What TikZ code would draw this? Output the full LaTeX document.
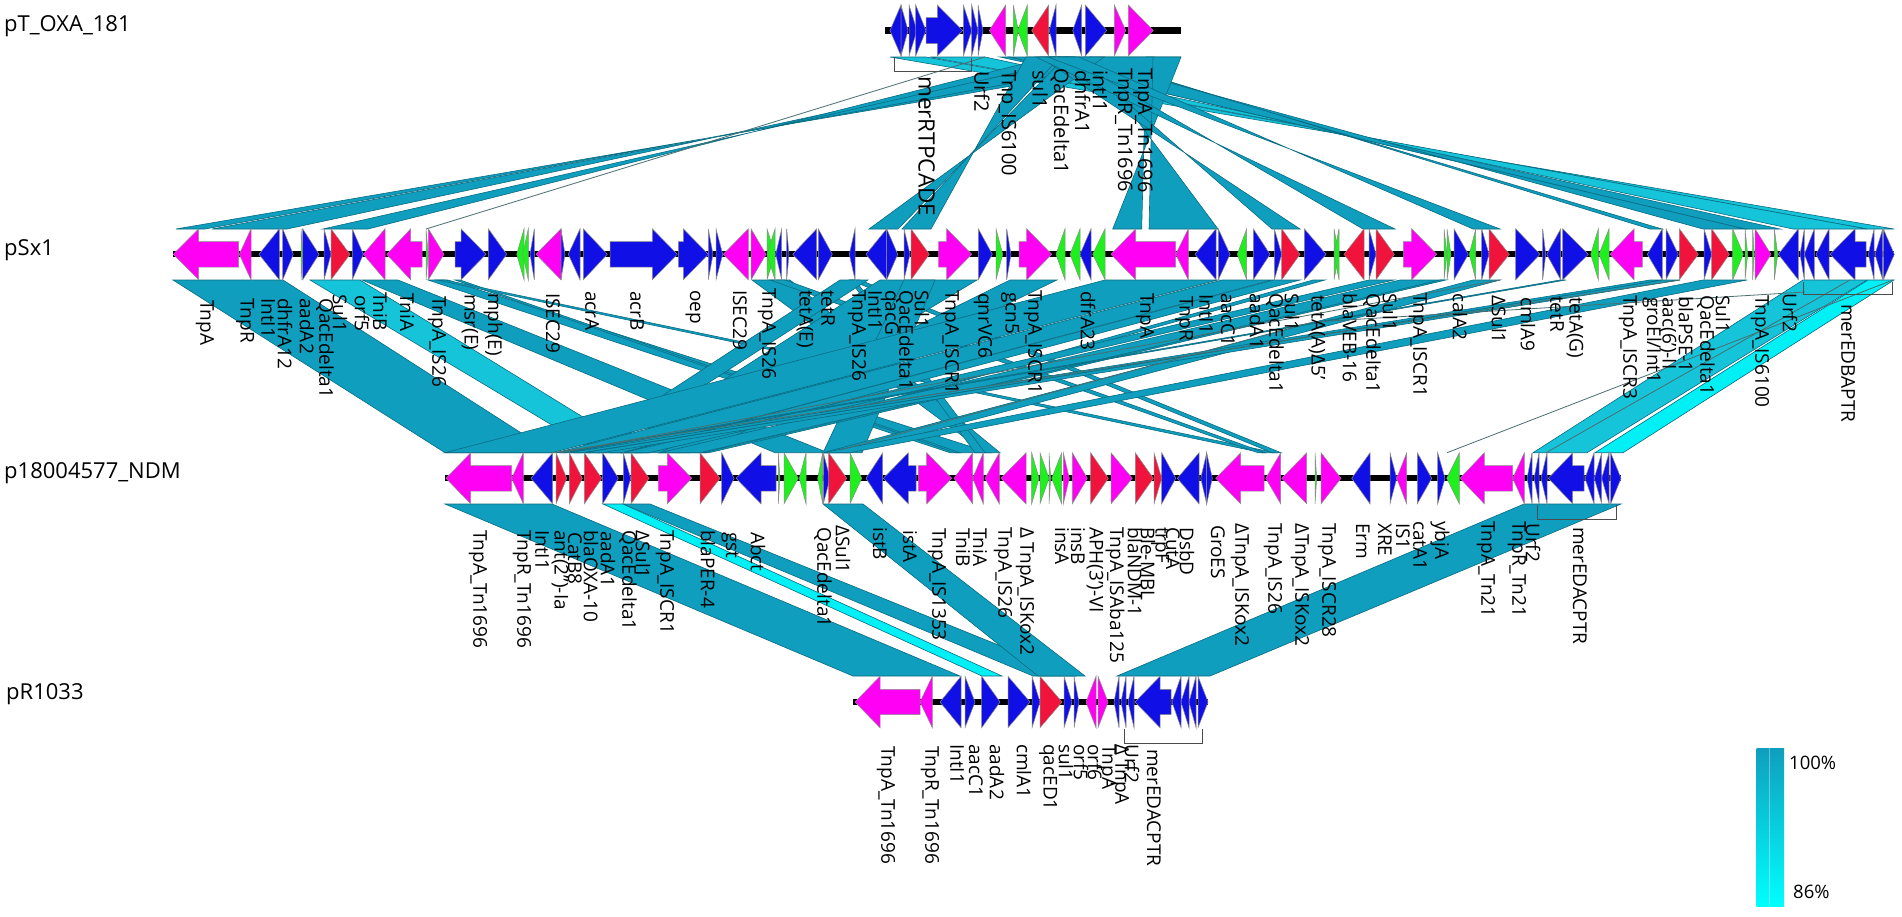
\documentclass[tikz,border=0pt]{standalone}
\usepackage{fontspec}
\setmainfont{Open Sans}
\definecolor{gb}{HTML}{1010E6}
\definecolor{gm}{HTML}{FF00F5}
\definecolor{gg}{HTML}{1EF01E}
\definecolor{gr}{HTML}{F0143C}
\definecolor{teal1}{HTML}{0F9EBE}
\definecolor{mid1}{HTML}{16C4DA}
\definecolor{cy1}{HTML}{00F0F5}
\definecolor{edge1}{HTML}{0A6C82}
\definecolor{gline}{HTML}{4A6E70}
\tikzset{
  gene/.style={line width=0.5pt,draw=black!45},
  rib/.style={line width=0.6pt,draw=edge1},
  thinrib/.style={line width=0.8pt,draw=gline},
  brk/.style={line width=0.8pt,draw=black!70},
  backbone/.style={line width=#1,draw=black},
  lab/.style={rotate=-90,anchor=west,inner sep=0pt,font=\fontsize{19}{19}\selectfont},
  labt/.style={rotate=-90,anchor=west,inner sep=0pt,font=\fontsize{20}{20}\selectfont},
  labb/.style={rotate=-90,anchor=west,inner sep=0pt,font=\fontsize{22.5}{22.5}\selectfont},
  nm/.style={anchor=west,inner sep=0pt,font=\fontsize{22}{22}\selectfont},
}
% gene macros: triangle (base,tip,colour) and block arrow (tail,neck,tip,colour)
\newcommand{\gT}[3]{\draw[gene,fill=#3] (#1,\cy-\hh)--(#2,\cy)--(#1,\cy+\hh)--cycle;}
\newcommand{\gA}[4]{\draw[gene,fill=#4] (#1,\cy-\sh)--(#2,\cy-\sh)--(#2,\cy-\hh)--(#3,\cy)--(#2,\cy+\hh)--(#2,\cy+\sh)--(#1,\cy+\sh)--cycle;}
\newcommand{\rb}[5]{\draw[rib,fill=#1] (#2,\ya)--(#3,\ya)--(#5,\yb)--(#4,\yb)--cycle;}
\newcommand{\gln}[2]{\draw[thinrib] (#1,\ya)--(#2,\yb);}
\begin{document}
\begin{tikzpicture}[x=1pt,y=-1pt]
\useasboundingbox (0,0) rectangle (1902,916);
\fill[white] (0,0) rectangle (1902,916);

% ---------- ribbons T2-T3
\def\ya{504}\def\yb{676}
\rb{teal1}{445}{552}{853}{960}
\rb{cy1}{603}{623}{982}{1002}
\rb{teal1}{623}{650}{1033}{1075}
\rb{teal1}{823}{863}{1038}{1085}
\rb{teal1}{1524}{1621}{1117}{1210}

% ---------- ribbons T1-T2
\def\ya{280}\def\yb{452.7}
\rb{teal1}{173}{283}{445}{552}
\rb{mid1}{310}{360}{598}{641}
\rb{teal1}{362}{398}{775}{828}
\rb{teal1}{428}{448}{950}{990}
\rb{teal1}{455}{460}{955}{960}
\rb{teal1}{437}{445}{1262}{1275}
\rb{teal1}{752}{790}{985}{1000}
\rb{teal1}{850}{855}{975}{985}
\rb{teal1}{770}{785}{1258}{1265}
\rb{teal1}{850}{860}{1272}{1281}
\rb{teal1}{840}{868}{575}{600}
\rb{teal1}{880}{977}{610}{690}
\rb{teal1}{904}{935}{823}{862}
\rb{teal1}{1010}{1057}{660}{700}
\rb{teal1}{1105}{1218}{445}{552}
\rb{teal1}{1222}{1272}{556}{622}
\rb{teal1}{1274}{1300}{623}{649}
\rb{teal1}{1313}{1325}{700}{706}
\rb{teal1}{1369}{1394}{623}{649}
\rb{teal1}{1400}{1443}{660}{700}
\rb{teal1}{1440}{1446}{703}{709}
\rb{teal1}{1473}{1500}{823}{850}
\rb{teal1}{1703}{1747}{823}{850}
\rb{teal1}{1662}{1680}{584}{602}
\rb{teal1}{1650}{1662}{569}{582}
\rb{teal1}{1560}{1566}{560}{566}
\rb{mid1}{1803}{1867}{1533}{1587}
\rb{cy1}{1868}{1894}{1595}{1623}
\gln{1893}{1447}
\gln{1850}{1546}
\gln{1500}{560}
\gln{1680}{553}
\coordinate (ga) at (1805,292); \coordinate (gb) at (1313,322); \coordinate (gc) at (840,450);
\draw[thinrib] (ga)--(gb)--(gc);

% ---------- ribbons T0-T1
\def\ya{57}\def\yb{229}
\rb{mid1}{890}{926}{1894}{1867}
\rb{mid1}{930}{985}{1867}{1793}
\rb{teal1}{1010}{1000}{1745}{1780}
\rb{teal1}{1075}{1010}{1703}{1745}
\rb{teal1}{1090}{1085}{1650}{1662}
\rb{teal1}{1181}{1155}{176}{205}
\rb{teal1}{1155}{1090}{212}{287}
\rb{teal1}{1085}{1050}{323}{368}
\gln{985}{426}
\rb{teal1}{1181}{1146}{1112.7}{1141.7}
\rb{teal1}{1153}{1090}{1149}{1218}
\rb{teal1}{1104}{1065}{869}{898}
\rb{teal1}{1060}{1026}{902}{931}
\rb{teal1}{1075}{1040}{1272}{1300}
\rb{teal1}{1068}{1036}{1363}{1395}
\rb{teal1}{1079}{1048}{1473}{1500}

% ---------- brackets
\draw[brk] (894,58)--(894,71.7)--(971.7,71.7)--(971.7,58);
\draw[brk] (1803,282)--(1803,294)--(1892,294)--(1892,282);
\draw[brk] (1537.7,505)--(1537.7,519)--(1616,519)--(1616,505);
\draw[brk] (1124,729)--(1124,743)--(1202,743)--(1202,729);

% ---------- labels
\node[labb] (la0) at (926.7,76) {merRTPCADE};
\foreach \x/\y/\t [count=\i] in {982/71/Urf2,1006.7/70/Tnp\_IS6100,1040/70/sul1,1060/68/QacEdelta1,1082.7/70/dhfrA1,1100/70/intI1,1123/68/TnpR\_Tn1696,1143/68/TnpA\_Tn1696}
  \node[labt] (la\i) at (\x,\y) {\t};
\foreach \x/\y/\t [count=\i] in {205/300/TnpA,245/298/TnpR,268/298/IntI1,285/298/dhfrA12,307/298/aadA2,325/298/QacEdelta1,340/294/Sul1,362/295/orf5,380/292/TniB,407/293/TniA,437/296/TnpA\_IS26,470/294/msr(E),493/293/mph(E),553/293/ISEC29,592/291/acrA,637/291/acrB,693/290/oep,740/290/ISEC29,767/288/TnpA\_IS26,805/290/tetA(E),828/290/tetR,857/290/TnpA\_IS26,875/290/IntI1,890/290/qacG,905/290/QacEdelta1,922/290/Sul1,950/290/TnpA\_ISCR1,983/293/qnrVC6,1010/292/gcn5,1033/290/TnpA\_ISCR1,1088/291/dfrA23,1145/293/TnpA,1184/296/TnpR,1206/294/IntI1,1228/293/aacC1,1257/293/aadA1,1275/293/QacEdelta1,1292/293/Sul1,1317/295/tetA(A)Δ5',1350/293/blaVEB-16,1372/293/QacEdelta1,1390/293/Sul1,1418/293/TnpA\_ISCR1,1460/293/calA2,1499/295/ΔSul1,1528/297/cmlA9,1557/296/tetR,1575/297/tetA(G),1628/295/TnpA\_ISCR3,1652/297/{groEl/Int1},1668/297/aac(6')-II,1686/296/blaPSE-1,1706/295/QacEdelta1,1723/295/Sul1,1760/295/TnpA\_IS6100,1790/293/Urf2,1848/304/merEDBAPTR}
  \node[lab] (lb\i) at (\x,\y) {\t};
\foreach \x/\y/\t [count=\i] in {478/530/TnpA\_Tn1696,522/530/TnpR\_Tn1696,542/530/IntI1,560/530/ant(2'')-Ia,575/532/CatB8,591/530/blaOXA-10,608/531/aadA1,628/530/QacEdelta1,643/530/ΔSul1,665/530/TnpA\_ISCR1,708/530/blaPER-4,730/532/gst,758/532/Abct,823/527/QacEdelta1,843/525/ΔSul1,880/527/istB,910/530/istA,937/528/TnpA\_IS1353,963/528/TniB,980/528/TniA,1003/527/TnpA\_IS26,1025/527/Δ TnpA\_ISKox2,1062/527/insA,1078/527/insB,1095/527/APH(3')-VI,1115/527/TnpA\_ISAba125,1135/527/blaNDM-1,1148/527/Ble-MBL,1160/527/trpF,1173/527/CutA,1187/527/DsbD,1218/525/GroES,1240/523/ΔTnpA\_ISKox2,1273/523/TnpA\_IS26,1300/523/ΔTnpA\_ISKox2,1327/523/TnpA\_ISCR28,1363/523/Erm,1385/523/XRE,1403/523/IS1,1420/521/catA1,1440/521/ybjA,1486/521/TnpA\_Tn21,1517/521/TnpR\_Tn21,1533/523/Urf2,1580/527/merEDACPTR}
  \node[lab] (lc\i) at (\x,\y) {\t};
\foreach \x/\y/\t [count=\i] in {886/746/TnpA\_Tn1696,930/746/TnpR\_Tn1696,957/744/IntI1,976/744/aacC1,997/744/aadA2,1024/744/cmlA1,1048/744/qacED1,1066/744/sul1,1081/744/orf5,1095/744/orf6,1107/744/TnpA,1120/744/Δ TnpA,1132/744/Urf2,1154/749/merEDACPTR}
  \node[lab] (ld\i) at (\x,\y) {\t};

% ---------- names
\node[nm] (n0) at (4,26) {pT\_OXA\_181};
\node[nm] (n1) at (4,250) {pSx1};
\node[nm] (n2) at (4,473) {p18004577\_NDM};
\node[nm] (n3) at (6,694) {pR1033};

% ---------- track pT_OXA_181
\def\cy{30.5}\def\hh{25.5}\def\sh{13}
\draw[backbone=7pt] (885,\cy)--(1181,\cy);
\gT{901}{890}{gb}\gT{901}{908}{gb}\gT{909}{917}{gb}\gT{915.7}{926}{gb}
\gA{926}{937.3}{962.7}{gb}
\gT{963.3}{971.7}{gb}\gT{971.7}{978}{gb}\gT{978}{983}{gb}
\gT{1005.7}{989.3}{gm}
\gT{1013.3}{1018.3}{gg}\gT{1027.3}{1017.7}{gg}
\gT{1048.7}{1031.7}{gr}\gT{1056}{1049.3}{gb}
\gT{1081.7}{1072.7}{gb}\gT{1085.3}{1106.7}{gb}
\gT{1114.3}{1125.7}{gm}\gT{1128.3}{1153.3}{gm}

% ---------- track pSx1
\def\cy{254.3}\def\hh{25.5}\def\sh{12.7}
\draw[backbone=6pt] (172.7,\cy)--(1894,\cy);
\gA{238.7}{198.7}{173.3}{gm}\gT{251}{239.3}{gm}
\gT{279.3}{259}{gb}\gT{282.7}{293.3}{gb}\gT{301}{303}{gg}\gT{302.7}{319}{gb}
\gT{324}{331}{gb}\gT{331}{350}{gr}\gT{352.3}{363.3}{gb}\gT{385}{363.3}{gm}
\gA{422}{410.7}{386.7}{gm}\gT{426}{428.3}{gg}\gT{428.3}{444}{gm}
\gA{455}{461}{486}{gb}\gT{488.3}{506.7}{gb}
\gT{524}{516.7}{gg}\gT{528.3}{522.7}{gg}\gT{534.3}{530}{gb}
\gT{561}{536}{gm}\gT{561}{565}{gb}\gT{580}{568.3}{gb}\gT{583.3}{607.3}{gb}
\gA{610}{652.3}{677.3}{gb}\gA{678.3}{683.3}{708.3}{gb}
\gT{708.3}{713}{gb}\gT{716}{722.7}{gb}
\gT{748.3}{723.3}{gm}\gT{751}{766}{gm}
\gT{767}{775}{gg}\gT{775}{767}{gg}
\gT{781.7}{775.7}{gb}\gT{786.7}{789}{gb}
\gT{816.7}{792.7}{gb}\gT{818.3}{832.3}{gb}
\gT{855}{849.3}{gb}\gT{886.7}{866}{gb}\gT{886.7}{897.7}{gb}
\gT{904}{910}{gb}\gT{911}{929.3}{gr}
\gA{938.7}{946.7}{971.7}{gm}\gT{978.3}{992.3}{gb}
\gT{996}{1002.7}{gg}\gT{1006.7}{1011}{gb}
\gA{1019}{1026.7}{1051.7}{gm}
\gT{1065}{1056}{gg}\gT{1080}{1070}{gg}\gT{1091}{1080}{gb}\gT{1105}{1092.7}{gg}
\gA{1175.7}{1135.7}{1111}{gm}\gT{1188.3}{1175.7}{gm}
\gT{1216}{1195}{gb}\gT{1218.3}{1230}{gb}\gT{1246.7}{1237.3}{gg}
\gT{1253.3}{1270}{gb}\gT{1274.3}{1281.7}{gb}\gT{1281.7}{1300}{gr}
\gT{1304.3}{1326}{gb}\gT{1334}{1339}{gg}\gT{1339}{1334}{gg}
\gT{1364}{1344}{gr}\gT{1369}{1376}{gb}\gT{1376}{1394.3}{gr}
\gA{1403.3}{1411.7}{1436.7}{gm}
\gT{1444}{1447}{gg}\gT{1447}{1451}{gg}\gT{1454}{1468.3}{gb}\gT{1475.7}{1469.3}{gg}
\gT{1481.7}{1489}{gb}\gT{1489}{1509.3}{gr}\gT{1515.7}{1540}{gb}
\gT{1542.7}{1545.7}{gb}\gT{1560.7}{1546.7}{gb}\gT{1562.7}{1588.3}{gb}
\gT{1598.3}{1590.7}{gg}\gT{1609}{1599}{gg}
\gA{1642.3}{1634}{1610}{gm}\gT{1662.3}{1647.3}{gb}\gT{1666}{1678.3}{gb}
\gT{1679.3}{1698.3}{gr}\gT{1704}{1711.7}{gb}\gT{1711.7}{1729.3}{gr}
\gT{1732.7}{1743.3}{gg}\gT{1745}{1747.7}{gg}\gT{1752.7}{1754.3}{gg}
\gT{1755}{1771}{gm}\gT{1774.3}{1777.7}{gg}
\gT{1798.3}{1778.3}{gb}\gT{1804.3}{1800}{gb}\gT{1814.3}{1804.3}{gb}\gT{1829}{1816}{gb}
\gA{1866}{1855}{1830}{gb}\gT{1874}{1868.3}{gb}\gT{1882.7}{1875}{gb}\gT{1883.3}{1894.3}{gb}

% ---------- track p18004577_NDM
\def\cy{478.3}\def\hh{25.5}\def\sh{12.7}
\draw[backbone=6pt] (445,\cy)--(1621,\cy);
\gA{511.7}{470.7}{446}{gm}\gT{523.3}{511.7}{gm}
\gT{552.7}{531}{gb}\gT{556}{566.7}{gr}\gT{569.3}{582.3}{gr}\gT{584.3}{601.7}{gr}
\gT{602.7}{618.3}{gb}\gT{623.3}{630.7}{gb}\gT{631}{649}{gr}
\gA{658.3}{667.3}{691.7}{gm}\gT{700}{720}{gr}\gT{721.7}{734}{gb}
\gA{776}{761}{736}{gb}\gT{778.3}{780}{gg}\gT{784}{798.3}{gg}\gT{806}{799.3}{gg}
\gT{822.7}{817.7}{gg}\gT{823.3}{830}{gb}\gT{828.7}{846.7}{gr}
\gT{850}{861.7}{gg}\gT{882.7}{866}{gb}\gA{916}{908.3}{883.3}{gb}
\gA{918.3}{926.7}{951.7}{gm}\gT{972.7}{954}{gm}\gT{983.3}{972.7}{gm}\gT{999.3}{985}{gm}\gT{1026}{1001}{gm}
\gT{1031.7}{1039}{gg}\gT{1040}{1049}{gg}\gT{1049}{1050.7}{gg}\gT{1061.7}{1051.7}{gg}
\gT{1063.3}{1069.3}{gm}\gT{1072.3}{1087.3}{gm}\gT{1090.7}{1108.3}{gr}\gT{1111}{1132.3}{gm}
\gT{1135.3}{1153.3}{gr}\gT{1154}{1161.7}{gr}\gT{1161.7}{1175.7}{gb}\gT{1199}{1177.3}{gb}
\gT{1206.7}{1200.7}{gb}\gT{1206.7}{1212.3}{gb}
\gA{1264}{1240.7}{1215.7}{gm}\gT{1280.7}{1265.7}{gm}\gT{1306.7}{1281.7}{gm}
\gT{1315}{1316.7}{gg}\gT{1321}{1341}{gm}\gT{1370}{1351.7}{gb}
\gT{1390}{1396.7}{gb}\gT{1406.7}{1396.7}{gm}\gT{1417.3}{1431.7}{gb}\gT{1437.7}{1445}{gb}
\gT{1459.3}{1446.7}{gg}\gA{1512.7}{1484.3}{1460}{gm}\gT{1524.3}{1512.7}{gm}
\gT{1532}{1527}{gb}\gT{1539}{1534}{gb}\gT{1547}{1541}{gb}
\gA{1584}{1572.7}{1548.3}{gb}\gT{1594}{1585}{gb}\gT{1601.7}{1594.3}{gb}\gT{1609}{1601.7}{gb}\gT{1610.7}{1621}{gb}

% ---------- track pR1033
\def\cy{702}\def\hh{25.7}\def\sh{12.7}
\draw[backbone=6pt] (853.3,\cy)--(1208,\cy);
\gA{920}{880}{855}{gm}\gT{932.3}{920}{gm}
\gT{961}{940}{gb}\gT{965}{975}{gb}\gT{981.7}{1000}{gb}\gT{1008}{1030}{gb}
\gT{1032}{1040}{gb}\gT{1040}{1062}{gr}\gT{1064}{1072}{gb}\gT{1074}{1079}{gb}
\gT{1096}{1086}{gm}\gT{1098}{1108}{gm}
\gT{1119}{1114}{gb}\gT{1126}{1121}{gb}\gT{1134}{1128}{gb}
\gA{1171}{1160}{1135}{gb}\gT{1181}{1172}{gb}\gT{1189}{1181}{gb}\gT{1196}{1189}{gb}\gT{1198}{1208}{gb}

% ---------- colour bar
\shade[top color=teal1,bottom color=cyan] (1756.7,748) rectangle (1784,906.7);
\draw[line width=0.5pt,draw=white,opacity=0.35] (1769.5,748)--(1769.5,906.7);
\node[anchor=west,inner sep=0pt,font=\fontsize{18.5}{18.5}\selectfont] (hi) at (1789,762.7) {100\%};
\node[anchor=west,inner sep=0pt,font=\fontsize{18.5}{18.5}\selectfont] (lo) at (1793,892) {86\%};
\end{tikzpicture}
\end{document}
